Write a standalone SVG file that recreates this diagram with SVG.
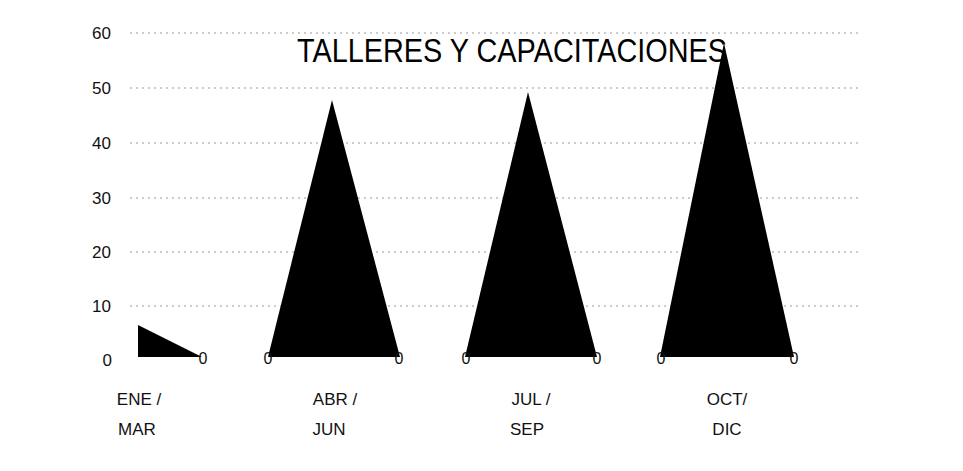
<svg xmlns="http://www.w3.org/2000/svg" width="963" height="471" viewBox="0 0 963 471">
<style>
.grid{stroke:#999;stroke-width:1;stroke-dasharray:2,4;fill:none}
.ax{font-family:"Liberation Sans",Arial,sans-serif;font-size:17px;fill:#111;text-anchor:end}
.cat{font-family:"Liberation Sans",Arial,sans-serif;font-size:17px;fill:#111;text-anchor:middle}
.val{font-family:"Liberation Sans",Arial,sans-serif;font-size:16px;fill:#111;text-anchor:middle}
.bar{fill:#000}
.title{font-family:"Liberation Sans",Arial,sans-serif;font-size:34px;fill:#000;text-anchor:middle}
</style>
<rect width="963" height="471" fill="#fff"/>
<g id="gridlines">
<line class="grid" x1="130" y1="33" x2="860" y2="33"/>
<line class="grid" x1="130" y1="88" x2="860" y2="88"/>
<line class="grid" x1="130" y1="143" x2="860" y2="143"/>
<line class="grid" x1="130" y1="198" x2="860" y2="198"/>
<line class="grid" x1="130" y1="252" x2="860" y2="252"/>
<line class="grid" x1="130" y1="306" x2="860" y2="306"/>
</g>
<g id="axis">
<text class="ax" x="111" y="39">60</text>
<text class="ax" x="111" y="94">50</text>
<text class="ax" x="111" y="149">40</text>
<text class="ax" x="111" y="204">30</text>
<text class="ax" x="111" y="258">20</text>
<text class="ax" x="111" y="312">10</text>
<text class="ax" x="112" y="366">0</text>
</g>
<text class="title" x="512" y="62" textLength="430" lengthAdjust="spacingAndGlyphs">TALLERES Y CAPACITACIONES</text>
<g id="bar-ene-mar">
<polygon class="bar" points="138,325 202,357 138,357"/>
<text class="val" x="203" y="364">0</text>
<text class="cat" x="139" y="405">ENE /</text>
<text class="cat" x="137" y="435">MAR</text>
</g>
<g id="bar-abr-jun">
<polygon class="bar" points="268,357 332,100 400,357"/>
<text class="val" x="268" y="364">0</text>
<text class="val" x="399" y="364">0</text>
<text class="cat" x="335" y="405">ABR /</text>
<text class="cat" x="329" y="435">JUN</text>
</g>
<g id="bar-jul-sep">
<polygon class="bar" points="465,357 528,92 597,357"/>
<text class="val" x="466" y="364">0</text>
<text class="val" x="597" y="364">0</text>
<text class="cat" x="531" y="405">JUL /</text>
<text class="cat" x="527" y="435">SEP</text>
</g>
<g id="bar-oct-dic">
<polygon class="bar" points="660,357 724,43 794,357"/>
<text class="val" x="661" y="364">0</text>
<text class="val" x="794" y="364">0</text>
<text class="cat" x="727" y="405">OCT/</text>
<text class="cat" x="727" y="435">DIC</text>
</g>
</svg>
